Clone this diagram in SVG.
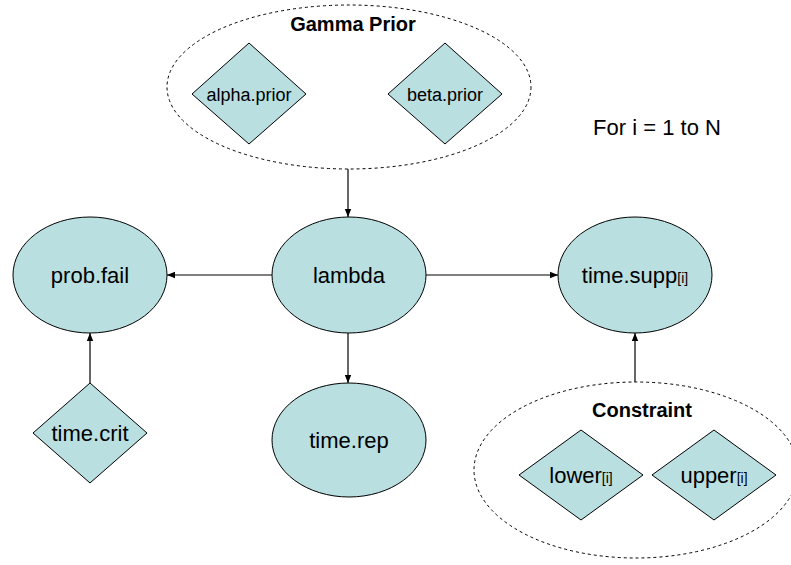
<svg xmlns="http://www.w3.org/2000/svg" width="791" height="565" viewBox="0 0 791 565">
<style>
.node{fill:#b9dfe1;stroke:#000;stroke-width:1}
.group{fill:none;stroke:#000;stroke-width:1;stroke-dasharray:3,3}
.lbl{font-family:"Liberation Sans",Arial,sans-serif;font-size:22px;fill:#000;text-anchor:middle}
.small{font-size:18px}
.title{font-family:"Liberation Sans",Arial,sans-serif;font-size:20px;font-weight:bold;fill:#000;text-anchor:middle}
.sub{font-size:14px;fill:#000}
.edge{stroke:#000;stroke-width:1.2;fill:none;marker-end:url(#arrow)}
</style>
<defs>
<marker id="arrow" viewBox="0 0 10 10" refX="10" refY="5" markerWidth="8" markerHeight="8" markerUnits="userSpaceOnUse" orient="auto">
<path d="M0,1 L10,5 L0,9 z" fill="#000"/>
</marker>
</defs>
<rect width="791" height="565" fill="#fff"/>
<g id="gamma-prior">
<ellipse class="group" cx="349" cy="87" rx="182" ry="82"/>
<text class="title" x="353" y="31">Gamma Prior</text>
</g>
<g id="alpha-prior">
<polygon class="node" points="249,43 306,94 249,144 192,94"/>
<text class="lbl small" x="249" y="101">alpha.prior</text>
</g>
<g id="beta-prior">
<polygon class="node" points="445,43 502,94 445,144 388,94"/>
<text class="lbl small" x="445" y="101">beta.prior</text>
</g>
<g id="for-label">
<text x="657" y="135" font-family="'Liberation Sans',Arial,sans-serif" font-size="22" text-anchor="middle">For i = 1 to N</text>
</g>
<g id="lambda">
<ellipse class="node" cx="349" cy="275" rx="77" ry="58"/>
<text class="lbl" x="349" y="283">lambda</text>
</g>
<g id="prob-fail">
<ellipse class="node" cx="90" cy="275" rx="77" ry="58"/>
<text class="lbl" x="90" y="283">prob.fail</text>
</g>
<g id="time-supp">
<ellipse class="node" cx="635" cy="275" rx="77" ry="58"/>
<text class="lbl" x="635" y="283">time.supp<tspan class="sub">[i]</tspan></text>
</g>
<g id="time-rep">
<ellipse class="node" cx="349" cy="440" rx="77" ry="57"/>
<text class="lbl" x="349" y="448">time.rep</text>
</g>
<g id="time-crit">
<polygon class="node" points="90,383 147,433 90,483 33,433"/>
<text class="lbl" x="90" y="441">time.crit</text>
</g>
<g id="constraint">
<ellipse class="group" cx="636" cy="470" rx="162" ry="88"/>
<text class="title" x="642" y="417">Constraint</text>
</g>
<g id="lower">
<polygon class="node" points="581,430 643,475 581,520 519,475"/>
<text class="lbl" x="581" y="483">lower<tspan class="sub">[i]</tspan></text>
</g>
<g id="upper">
<polygon class="node" points="714,430 776,475 714,520 652,475"/>
<text class="lbl" x="714" y="483">upper<tspan class="sub">[i]</tspan></text>
</g>
<g id="connectors">
<line class="edge" x1="348" y1="169" x2="348" y2="217"/>
<line class="edge" x1="272" y1="275" x2="167" y2="275"/>
<line class="edge" x1="426" y1="275" x2="558" y2="275"/>
<line class="edge" x1="348" y1="333" x2="348" y2="383"/>
<line class="edge" x1="90" y1="383" x2="90" y2="333"/>
<line class="edge" x1="635" y1="382" x2="635" y2="333"/>
</g>
</svg>
